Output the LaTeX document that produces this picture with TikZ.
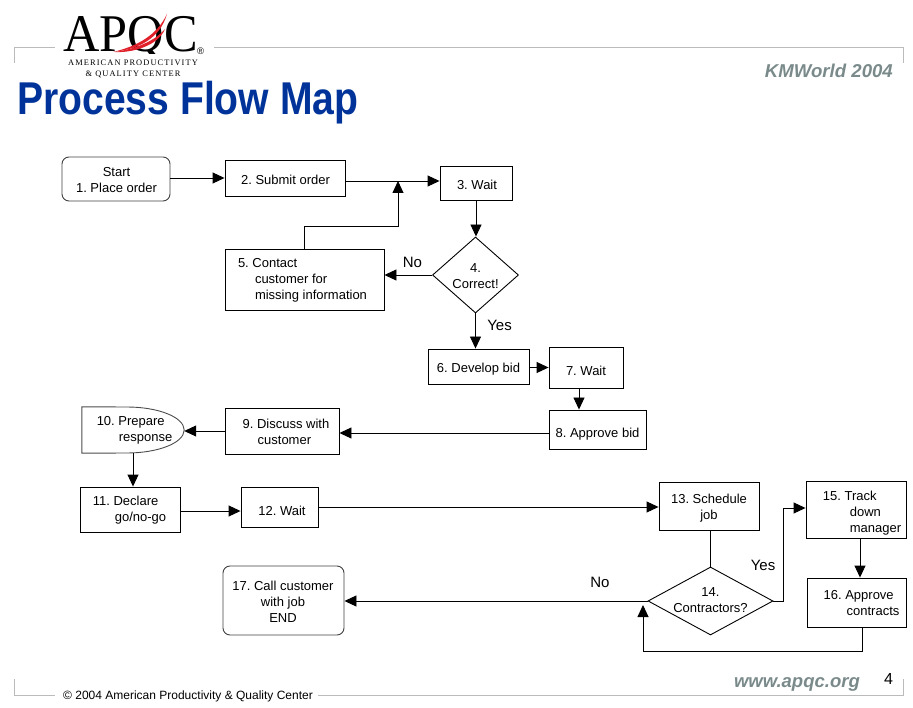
\documentclass[tikz,border=0pt]{standalone}
\usepackage{fontspec}
\setmainfont{Liberation Sans}
\newfontfamily\logofont{Liberation Serif}
\newfontfamily\logospaced[LetterSpace=13]{Liberation Serif}
\usetikzlibrary{arrows.meta,shapes.geometric}
\definecolor{titleblue}{HTML}{003399}
\definecolor{framegray}{HTML}{BBBBBB}
\definecolor{slategray}{HTML}{7A8A8A}
\definecolor{logored}{HTML}{E0202A}
\frenchspacing
\newcommand{\boxtext}[4][l]{\raisebox{\dimexpr-#3pt-5.2pt\relax}[0pt][0pt]{\makebox[0pt]{\hspace*{#2pt}\hspace*{#2pt}\begin{tabular}{@{}#1@{}}#4\end{tabular}}}}
\tikzset{
    arr/.style={-{Triangle[length=12pt,width=11pt]},line width=.9pt},
    plain line/.style={line width=.9pt},
    frame line/.style={framegray,line width=1pt},
    every node/.style={font=\fontsize{13}{16}\selectfont,inner sep=0pt},
    stepbox/.style={draw,line width=.9pt,align=center},
    endbox/.style={stepbox,rounded corners=7pt,draw=black!75},
    decision/.style={stepbox,diamond},
    edge label/.style={font=\fontsize{15}{16}\selectfont},
    web label/.style={text=slategray,font=\bfseries\itshape\fontsize{#1}{20}\selectfont},
}
\begin{document}
\begin{tikzpicture}[x=1pt,y=-1pt]
    \useasboundingbox (0,0) rectangle (913,708);

    % frame
    \draw[frame line] (14.5,63) -- (14.5,47.5) -- (55,47.5);
    \draw[frame line] (214,47.5) -- (903.5,47.5) -- (903.5,63);
    \draw[frame line] (14.5,679) -- (14.5,695) -- (55,695);
    \draw[frame line] (318,695) -- (903.5,695) -- (903.5,679);

    % logo
    \begin{scope}
        \clip (55,5) rectangle (214,54);
        \node[anchor=base,font=\logofont\fontsize{53}{54}\selectfont,xscale=.95,transform shape] (logo) at (130.5,52) {APQC};
    \end{scope}
    \fill[logored] (113,52) .. controls (140,49) and (160,38) .. (167,14)
        .. controls (157,35) and (138,46) .. (113,52) -- cycle;
    \fill[logored] (115,52) .. controls (132,53) and (158,46) .. (165,29)
        .. controls (154,42) and (134,49) .. (115,52) -- cycle;
    \node[font=\fontsize{9.5}{10}\selectfont] (logoreg) at (200.5,51.5) {®};
    \node[font=\logospaced\fontsize{8.4}{8}\selectfont] (logoname) at (133,62.5) {AMERICAN PRODUCTIVITY};
    \node[font=\logospaced\fontsize{8.4}{8}\selectfont] (logocenter) at (133,74.5) {\& QUALITY CENTER};

    % headings
    \node[anchor=base west,text=titleblue,font=\bfseries\fontsize{46}{46}\selectfont,xscale=.85,transform shape] (title) at (17,114.5) {Process Flow Map};
    \node[web label=18.6,anchor=base east] (event) at (893,78) {KMWorld 2004};
    \node[web label=18.5,anchor=base east] (web) at (860,687) {www.apqc.org};
    \node[anchor=base,font=\fontsize{16}{16}\selectfont] (pagenum) at (888.5,684) {4};
    \node[anchor=base west,font=\fontsize{12}{16}\selectfont] (copyright) at (63,699) {© 2004 American Productivity \& Quality Center};

    % first row
    \node[endbox,minimum width=108pt,minimum height=44pt] (start) at (116,179) {\boxtext[c]{.5}{0}{Start\\1. Place order}};
    \node[stepbox,minimum width=120pt,minimum height=36pt] (submit) at (285,178) {\boxtext{.5}{1.5}{2. Submit order}};
    \node[stepbox,minimum width=72pt,minimum height=34pt] (waitone) at (476,183) {\boxtext{1}{1}{3. Wait}};
    \node[decision,aspect=1.13,minimum width=86pt,minimum height=76pt] (correct) at (475.5,275) {\boxtext[c]{0}{0}{4.\\Correct!}};
    \node[stepbox,minimum width=159pt,minimum height=61pt] (contact) at (304.5,279.5) {\boxtext{-2}{-1.5}{5. Contact\\\hspace*{17pt}customer for\\\hspace*{17pt}missing information}};
    \node[stepbox,minimum width=101pt,minimum height=35pt] (develop) at (478.5,366.5) {\boxtext{0}{.5}{6. Develop bid}};
    \node[stepbox,minimum width=74pt,minimum height=41pt] (waittwo) at (586,367.5) {\boxtext{0}{2.5}{7. Wait}};
    \node[stepbox,minimum width=97pt,minimum height=39pt] (approve) at (597.5,429.5) {\boxtext{0}{2.5}{8. Approve bid}};

    % second row
    \node[stepbox,minimum width=114pt,minimum height=46pt] (discuss) at (282,431) {\boxtext{4}{.5}{9. Discuss with\\\hspace*{15pt}customer}};
    \node[minimum width=102pt,minimum height=46pt] (prepare) at (133,430) {\boxtext{1.5}{-2}{10. Prepare\\\hspace*{22pt}response}};
    \draw[draw=black!70,line width=.9pt] (prepare.north west) -- (127,407)
        .. controls (158,407) and (184,417) .. (prepare.east)
        .. controls (184,443) and (158,453) .. (127,453)
        -- (prepare.south west) -- cycle;
    \node[stepbox,minimum width=100pt,minimum height=45pt] (declare) at (130,509.5) {\boxtext{-.5}{-1.5}{11. Declare\\\hspace*{22pt}go/no-go}};
    \node[stepbox,minimum width=77pt,minimum height=40pt] (waitthree) at (279.5,507) {\boxtext{2.5}{3}{12. Wait}};
    \node[stepbox,minimum width=100pt,minimum height=48pt] (schedule) at (709,506) {\boxtext[c]{0}{0}{13. Schedule\\job}};

    % third row
    \node[decision,aspect=1.84,minimum width=125pt,minimum height=68pt] (contractors) at (710.5,601) {\boxtext[c]{0}{-2}{14.\\Contractors?}};
    \node[endbox,minimum width=121pt,minimum height=69pt] (call) at (283.5,600.5) {\boxtext[c]{-.5}{.5}{17. Call customer\\with job\\END}};
    \node[stepbox,minimum width=100pt,minimum height=57pt] (track) at (856,509.5) {\boxtext{6}{1.5}{15. Track\\\hspace*{27pt}down\\\hspace*{27pt}manager}};
    \node[stepbox,minimum width=99pt,minimum height=49pt] (contracts) at (856.5,602.5) {\boxtext{5}{0}{16. Approve\\\hspace*{23pt}contracts}};

    % helper corners of the routed lines
    \coordinate (joint) at (304.5,226);
    \coordinate (mergeone) at (398,181);
    \coordinate (returnend) at (643,605);

    % connectors
    \draw[arr] (start.east |- submit.west) -- (submit.west);
    \draw[arr] ([yshift=-3pt]submit.east) -- ([yshift=-3pt]submit.east -| waitone.west);
    \draw[arr] (contact.north -| joint) -- (joint) -| (mergeone);
    \draw[arr] (waitone.south) -- (waitone.south |- correct.north);
    \draw[arr] (correct.west) -- (correct.west -| contact.east);
    \draw[arr] (correct.south) -- (correct.south |- develop.north);
    \draw[arr] ([yshift=-1pt]develop.east) -- ([yshift=-1pt]develop.east -| waittwo.west);
    \draw[arr] ([xshift=-7pt]waittwo.south) -- ([xshift=-7pt]waittwo.south |- approve.north);
    \draw[arr] ([yshift=-3.5pt]approve.west) -- ([yshift=-3.5pt]approve.west -| discuss.east);
    \draw[arr] (discuss.west) -- (discuss.west -| prepare.east);
    \draw[arr] (prepare.south) -- (prepare.south |- declare.north);
    \draw[arr] ([yshift=-1.5pt]declare.east) -- ([yshift=-1.5pt]declare.east -| waitthree.west);
    \draw[arr] (waitthree.east) -- (waitthree.east -| schedule.west);
    \draw[plain line] (schedule.south -| contractors.north) -- (contractors.north);
    \draw[arr] (contractors.west) -- (contractors.west -| call.east);
    \draw[arr] (contractors.east) -- (783,601) |- ([yshift=1.5pt]track.west);
    \draw[arr] ([xshift=4pt]track.south) -- ([xshift=4pt]track.south |- contracts.north);
    \draw[arr] ([xshift=5.5pt]contracts.south) |- (643,651) -- (returnend);

    % branch labels
    \node[edge label] (nofour) at (412.5,262) {No};
    \node[edge label] (yesfour) at (499.5,325) {Yes};
    \node[edge label] (yesfourteen) at (763,565.5) {Yes};
    \node[edge label] (nofourteen) at (600,582) {No};
\end{tikzpicture}
\end{document}
